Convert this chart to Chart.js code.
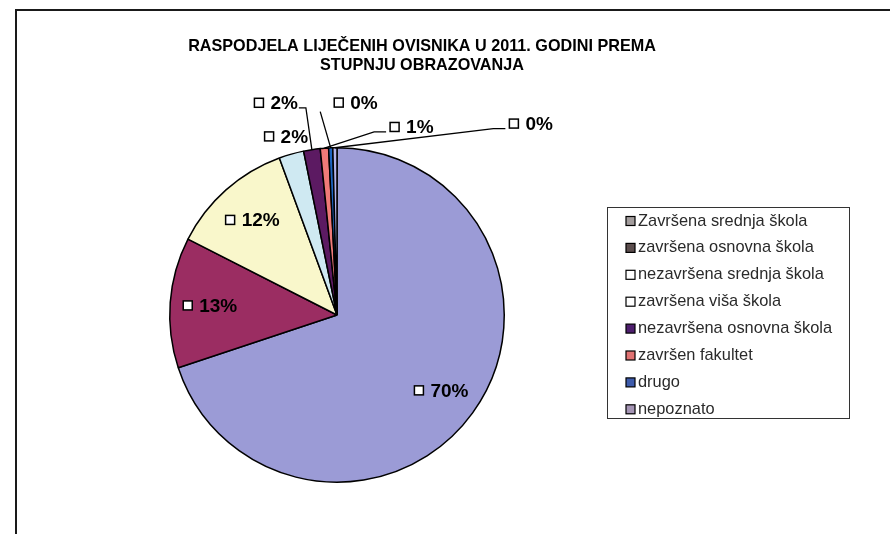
<!DOCTYPE html>
<html>
<head>
<meta charset="utf-8">
<script src="https://cdn.jsdelivr.net/npm/chart.js@4.4.0/dist/chart.umd.min.js"></script>
<style>
  body { margin: 0; background: #fff; }
  #wrap { width: 890px; height: 534px; }
</style>
</head>
<body>
<div id="wrap"><canvas id="pieChart" width="890" height="534"></canvas></div>
<script>
// Data
const categories = [
    'Završena srednja škola',
    'završena osnovna škola',
    'nezavršena srednja škola',
    'završena viša škola',
    'nezavršena osnovna škola',
    'završen fakultet',
    'drugo',
    'nepoznato'
];
const shares = [69.9, 12.6, 11.9, 2.4, 1.6, 0.8, 0.4, 0.4];
const titleLines = ['RASPODJELA LIJEČENIH OVISNIKA U 2011. GODINI PREMA', 'STUPNJU OBRAZOVANJA'];

// Styles
const sliceColors = ['#9b9bd6', '#9b2d62', '#f9f7cb', '#cfe9f2', '#5c1a62', '#f07a78', '#1e64c0', '#b4b4ea'];
const legendSwatches = ['#a39d9d', '#5b4d4d', '#ffffff', '#ffffff', '#4e1e6e', '#e07272', '#3d5bab', '#a595b5'];

// label placement: radius factor, optional angle (deg clockwise from top), leader style
const labelPlacement = [
    { r: 0.77 },
    { r: 0.76 },
    { r: 0.76 },
    { r: 1.11 },
    { r: 1.32, deg: 344, leader: 'right' },
    { r: 1.21, deg: 21.7, leader: 'left' },
    { r: 1.275, deg: 5.1, leader: 'down' },
    { r: 1.63, deg: 45.4, leader: 'left' }
];

const FONT = '"Liberation Sans", Arial, sans-serif';

const decorPlugin = {
    id: 'decor',
    beforeDraw(chart) {
        const ctx = chart.ctx;
        ctx.save();
        ctx.fillStyle = '#fff';
        ctx.fillRect(0, 0, chart.width, chart.height);
        ctx.restore();
    },
    afterDraw(chart) {
        const ctx = chart.ctx;
        ctx.save();

        // outer frame
        ctx.strokeStyle = '#1a1a1a';
        ctx.lineWidth = 2;
        ctx.strokeRect(16, 10, 900, 600);

        // title
        ctx.fillStyle = '#000';
        ctx.font = 'bold 16.2px ' + FONT;
        ctx.textAlign = 'center';
        ctx.textBaseline = 'middle';
        ctx.fillText(titleLines[0], 422, 47);
        ctx.fillText(titleLines[1], 422, 66);

        // data labels
        const meta = chart.getDatasetMeta(0);
        const total = shares.reduce((a, b) => a + b, 0);
        ctx.font = 'bold 19px ' + FONT;
        ctx.textAlign = 'left';
        meta.data.forEach((arc, i) => {
            const p = arc.getProps(['x', 'y', 'startAngle', 'endAngle', 'outerRadius'], true);
            const mid = (p.startAngle + p.endAngle) / 2;
            const place = labelPlacement[i];
            const ang = place.deg !== undefined ? (place.deg - 90) * Math.PI / 180 : mid;
            const cx = p.x + Math.cos(ang) * p.outerRadius * place.r;
            const cy = p.y + Math.sin(ang) * p.outerRadius * place.r;
            const txt = Math.round(shares[i] / total * 100) + '%';
            const tw = ctx.measureText(txt).width;
            const sq = 9, gap = 7;
            const w = sq + gap + tw;
            const left = cx - w / 2;

            // leader line
            if (place.leader) {
                const ex = p.x + Math.cos(mid) * p.outerRadius;
                const ey = p.y + Math.sin(mid) * p.outerRadius;
                ctx.strokeStyle = '#000';
                ctx.lineWidth = 1.3;
                ctx.beginPath();
                if (place.leader === 'right') {
                    ctx.moveTo(left + w + 1, cy + 5);
                    ctx.lineTo(left + w + 8, cy + 5);
                    ctx.lineTo(ex, ey);
                } else if (place.leader === 'left') {
                    ctx.moveTo(left - 4, cy + 5);
                    ctx.lineTo(left - 16, cy + 5);
                    ctx.lineTo(ex, ey);
                } else {
                    ctx.moveTo(left - 14, cy + 9);
                    ctx.lineTo(ex, ey);
                }
                ctx.stroke();
            }

            ctx.fillStyle = '#fff';
            ctx.fillRect(left, cy - sq / 2, sq, sq);
            ctx.strokeStyle = '#000';
            ctx.lineWidth = 1.5;
            ctx.strokeRect(left, cy - sq / 2, sq, sq);
            ctx.fillStyle = '#000';
            ctx.fillText(txt, left + sq + gap, cy + 1);
        });

        // legend
        const lx = 607, ly = 207, lw = 242, lh = 211;
        ctx.strokeStyle = '#333';
        ctx.lineWidth = 1;
        ctx.strokeRect(lx + 0.5, ly + 0.5, lw, lh);
        ctx.font = '16.4px ' + FONT;
        ctx.textBaseline = 'middle';
        categories.forEach((name, i) => {
            const ry = 221 + i * 26.9;
            ctx.fillStyle = legendSwatches[i];
            ctx.fillRect(626, ry - 4.5, 9, 9);
            ctx.strokeStyle = '#000';
            ctx.lineWidth = 1.2;
            ctx.strokeRect(626, ry - 4.5, 9, 9);
            ctx.fillStyle = '#2a2a2a';
            ctx.fillText(name, 638, ry);
        });

        ctx.restore();
    }
};

new Chart(document.getElementById('pieChart').getContext('2d'), {
    type: 'pie',
    data: {
        labels: categories,
        datasets: [{
            data: shares,
            backgroundColor: sliceColors,
            borderColor: '#000',
            borderWidth: 1.5
        }]
    },
    options: {
        responsive: false,
        animation: false,
        layout: { padding: { left: 169, top: 147, right: 385, bottom: 51 } },
        plugins: {
            legend: { display: false },
            title: { display: false },
            tooltip: { enabled: false }
        }
    },
    plugins: [decorPlugin]
});
</script>
</body>
</html>
